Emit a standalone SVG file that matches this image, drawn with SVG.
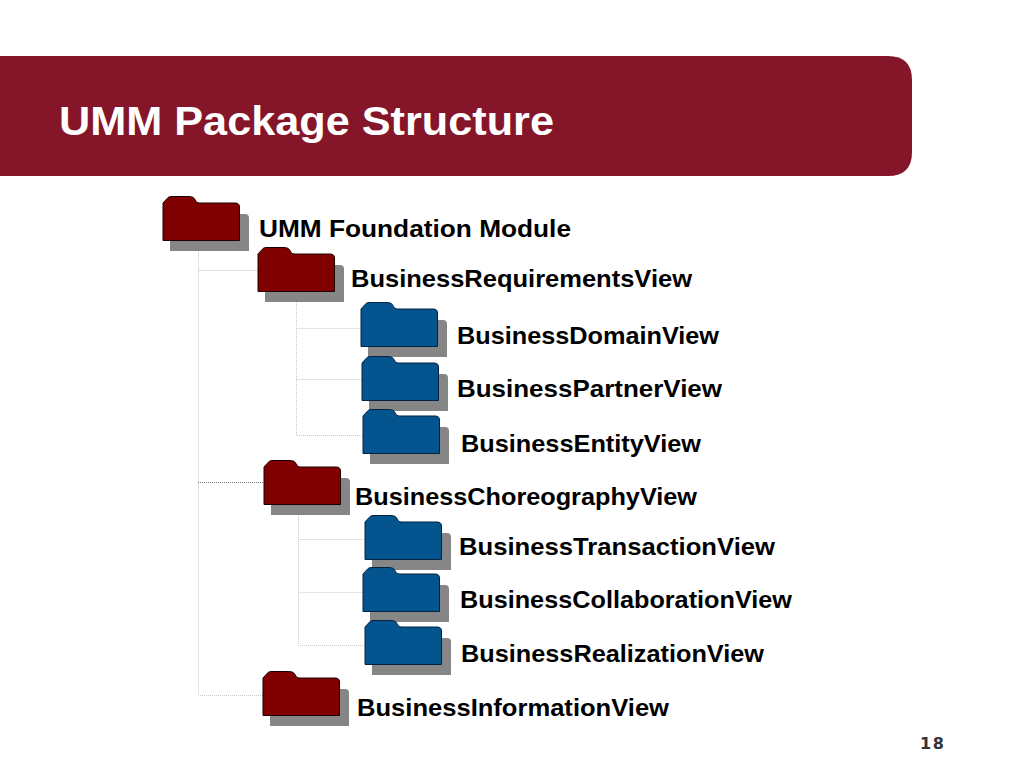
<svg xmlns="http://www.w3.org/2000/svg" width="1024" height="768" viewBox="0 0 1024 768">
<style>
.lb{font-family:"Liberation Sans",Arial,sans-serif;font-weight:700;font-size:24px;fill:#000}
.ttl{font-family:"Liberation Sans",Arial,sans-serif;font-weight:700;font-size:40px;fill:#fff}
.pg{font-family:"DejaVu Sans",sans-serif;font-weight:700;font-size:16px;fill:#333}
.c{fill:none;stroke:#c8c8c8;stroke-width:1;stroke-dasharray:1 1}
.red{fill:#800000;stroke:#1a0000;stroke-width:1}
.blue{fill:#04548f;stroke:#04233f;stroke-width:1}
.sh{fill:#868686}
</style>
<defs>
<path id="f" d="M0 44.500V7L5 1.500Q6 0.500 9 0.500H26Q31 0.500 32 3.500Q33 7 36 7H72Q76.500 7 76.500 11V44.500Z"/>
<path id="s" d="M0 45V8H75Q79 8 79 12V45Z"/>
</defs>
<rect width="1024" height="768" fill="#fff"/>
<path d="M0 56H888Q912 56 912 80V152Q912 176 888 176H0Z" fill="#851528"/>
<text class="ttl" x="59" y="135" textLength="495" lengthAdjust="spacingAndGlyphs">UMM Package Structure</text>
<g id="connectors">
<path class="c" d="M198.500 241V695.500H263M198.500 270.500H258M296.500 292V435.500H362M296.500 328.500H361M296.500 379.500H362M298.500 505V645.500H364M298.500 539.500H364M298.500 592.500H363"/>
<path d="M198 482.500H264" fill="none" stroke="#777" stroke-width="1" stroke-dasharray="1 1"/>
</g>
<g id="n1"><use href="#s" class="sh" x="170" y="206"/><use href="#f" class="red" x="163" y="196"/><text class="lb" x="259" y="237" textLength="312" lengthAdjust="spacingAndGlyphs">UMM Foundation Module</text></g>
<g id="n2"><use href="#s" class="sh" x="265" y="257"/><use href="#f" class="red" x="258" y="247"/><text class="lb" x="351" y="287" textLength="341" lengthAdjust="spacingAndGlyphs">BusinessRequirementsView</text></g>
<g id="n3"><use href="#s" class="sh" x="368" y="312"/><use href="#f" class="blue" x="361" y="302"/><text class="lb" x="457" y="344" textLength="262" lengthAdjust="spacingAndGlyphs">BusinessDomainView</text></g>
<g id="n4"><use href="#s" class="sh" x="369" y="366"/><use href="#f" class="blue" x="362" y="356"/><text class="lb" x="457" y="397" textLength="265" lengthAdjust="spacingAndGlyphs">BusinessPartnerView</text></g>
<g id="n5"><use href="#s" class="sh" x="370" y="419"/><use href="#f" class="blue" x="363" y="409"/><text class="lb" x="461" y="452" textLength="240" lengthAdjust="spacingAndGlyphs">BusinessEntityView</text></g>
<g id="n6"><use href="#s" class="sh" x="271" y="470"/><use href="#f" class="red" x="264" y="460"/><text class="lb" x="355" y="505" textLength="342" lengthAdjust="spacingAndGlyphs">BusinessChoreographyView</text></g>
<g id="n7"><use href="#s" class="sh" x="372" y="525"/><use href="#f" class="blue" x="365" y="515"/><text class="lb" x="459" y="555" textLength="316" lengthAdjust="spacingAndGlyphs">BusinessTransactionView</text></g>
<g id="n8"><use href="#s" class="sh" x="370" y="577"/><use href="#f" class="blue" x="363" y="567"/><text class="lb" x="460" y="608" textLength="332" lengthAdjust="spacingAndGlyphs">BusinessCollaborationView</text></g>
<g id="n9"><use href="#s" class="sh" x="372" y="630"/><use href="#f" class="blue" x="365" y="620"/><text class="lb" x="461" y="662" textLength="303" lengthAdjust="spacingAndGlyphs">BusinessRealizationView</text></g>
<g id="n10"><use href="#s" class="sh" x="270" y="681"/><use href="#f" class="red" x="263" y="671"/><text class="lb" x="357" y="716" textLength="312" lengthAdjust="spacingAndGlyphs">BusinessInformationView</text></g>
<text class="pg" x="920" y="749" textLength="24">18</text>
</svg>
